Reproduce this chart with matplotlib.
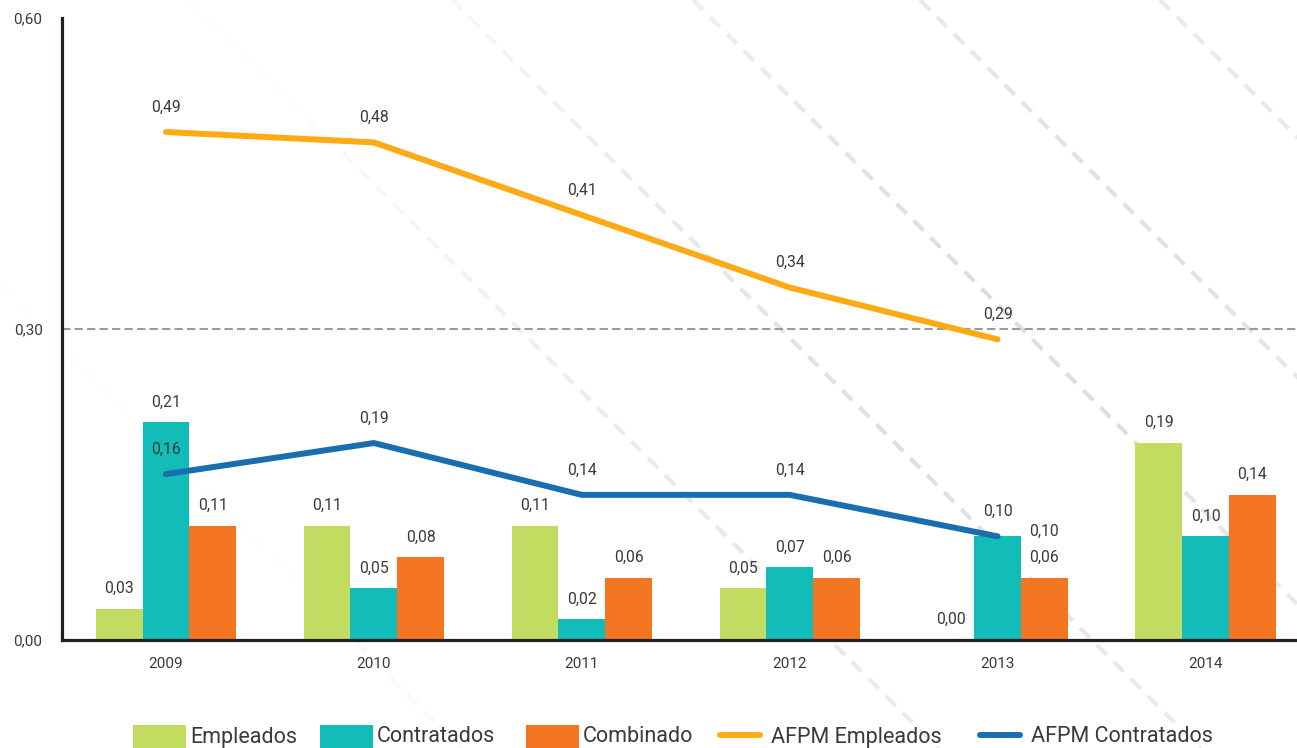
import numpy as np
import matplotlib
matplotlib.use("Agg")
import matplotlib.pyplot as plt
from matplotlib.collections import LineCollection
from matplotlib.patches import Rectangle

# ---- data ----
years = ["2009", "2010", "2011", "2012", "2013", "2014"]
empleados = [0.03, 0.11, 0.11, 0.05, 0.00, 0.19]
contratados = [0.21, 0.05, 0.02, 0.07, 0.10, 0.10]
combinado = [0.11, 0.08, 0.06, 0.06, 0.06, 0.14]
afpm_years = years[:5]
afpm_empleados = [0.49, 0.48, 0.41, 0.34, 0.29]
afpm_contratados = [0.16, 0.19, 0.14, 0.14, 0.10]
y_ticks = [0.00, 0.30, 0.60]
series_names = ["Empleados", "Contratados", "Combinado",
                "AFPM Empleados", "AFPM Contratados"]

# ---- style ----
C_EMP = "#c2dc62"
C_CON = "#12bcb8"
C_COM = "#f47521"
C_AFPM_E = "#fdaa14"
C_AFPM_C = "#1a6eae"
TXT = "#3a3a3a"

plt.rcParams["font.family"] = ["Roboto", "DejaVu Sans"]

W, H = 1297, 748
fig = plt.figure(figsize=(W / 100, H / 100), dpi=100)


def fmt(v):
    return f"{v:.2f}".replace(".", ",")


# ---- decorative background: faded diagonal dashes (pixel space) ----
bg = fig.add_axes([0, 0, 1, 1], zorder=0)
bg.set_xlim(0, W)
bg.set_ylim(H, 0)
bg.axis("off")

intercepts = [287, -190, -452, -693, -920, -1160]
segs, cols = [], []
dash, gap = 14, 10
u = np.array([1.0, 1.0]) / np.sqrt(2)
for c in intercepts:
    x0 = max(0.0, -c)
    p0 = np.array([x0, x0 + c])
    t = 0.0
    while True:
        a = p0 + u * t
        b = p0 + u * (t + dash)
        if a[0] > W or a[1] > H:
            break
        mid = (a + b) / 2
        d = np.hypot(mid[0] - 1000, mid[1] - 350)
        alpha = float(np.clip(1 - d / 800, 0.04, 0.85))
        segs.append([a, b])
        cols.append((0.85, 0.85, 0.85, alpha))
        t += dash + gap
bg.add_collection(LineCollection(segs, colors=cols, linewidths=3.0,
                                 capstyle="butt"))

# ---- main axes ----
ax = fig.add_axes([62 / W, 1 - 640 / H, 1 - 62 / W, (640 - 18) / H], zorder=1)
ax.patch.set_alpha(0)

x = np.arange(len(years))
bw = 0.225
ax.set_xlim(-0.5, 5.44)
ax.set_ylim(0, 0.6)

ax.axhline(0.30, color="#9a9a9a", lw=1.5, ls=(0, (4, 2)), zorder=1)

bar_sets = [(empleados, C_EMP, -bw), (contratados, C_CON, 0.0), (combinado, C_COM, bw)]
for vals, col, off in bar_sets:
    ax.bar(x + off, vals, bw, color=col, zorder=2, linewidth=0)

# bar value labels; the 2013 Contratados label is nudged aside so it
# does not collide with the AFPM Contratados label
nudge = {(1, 4): (bw, -0.0145)}
for si, (vals, col, off) in enumerate(bar_sets):
    for i, v in enumerate(vals):
        dx, dy = nudge.get((si, i), (0.0, 0.0))
        ax.text(x[i] + off + dx, v + 0.0195 + dy, fmt(v), ha="center",
                va="center", fontsize=11.3, color=TXT, zorder=6)

xa = x[:len(afpm_years)]
ax.plot(xa, afpm_empleados, color=C_AFPM_E, lw=4.3, solid_capstyle="round",
        solid_joinstyle="round", zorder=4)
ax.plot(xa, afpm_contratados, color=C_AFPM_C, lw=4.3, solid_capstyle="round",
        solid_joinstyle="round", zorder=4)
for vals in (afpm_empleados, afpm_contratados):
    for i, v in enumerate(vals):
        ax.text(xa[i], v + 0.024, fmt(v), ha="center", va="center",
                fontsize=11.3, color=TXT, zorder=6)

# axes styling
for s in ("top", "right"):
    ax.spines[s].set_visible(False)
for s in ("left", "bottom"):
    ax.spines[s].set_color("#231f20")
    ax.spines[s].set_linewidth(2.3)
    ax.spines[s].set_zorder(5)

ax.set_yticks(y_ticks)
ax.set_yticklabels([fmt(v) for v in y_ticks])
ax.set_xticks(x)
ax.set_xticklabels(years)
ax.tick_params(axis="y", length=0, pad=14, labelsize=11, labelcolor=TXT)
ax.tick_params(axis="x", length=0, pad=12, labelsize=11, labelcolor=TXT)

# ---- legend along the bottom edge (pixel layout) ----
legend_x = [133, 320, 526, 717, 977]
legend_kind = ["bar", "bar", "bar", "line", "line"]
legend_col = [C_EMP, C_CON, C_COM, C_AFPM_E, C_AFPM_C]
for name, lx, kind, col in zip(series_names, legend_x, legend_kind, legend_col):
    if kind == "bar":
        bg.add_patch(Rectangle((lx, 725), 53, 30, color=col, lw=0))
        tx = lx + 57
    else:
        bg.plot([lx + 3, lx + 43], [735, 735], color=col, lw=4.3,
                solid_capstyle="round")
        tx = lx + 54
    bg.text(tx, 742.5, name, ha="left", va="baseline", fontsize=15.5, color=TXT)

fig.savefig("out.png", dpi=100)
